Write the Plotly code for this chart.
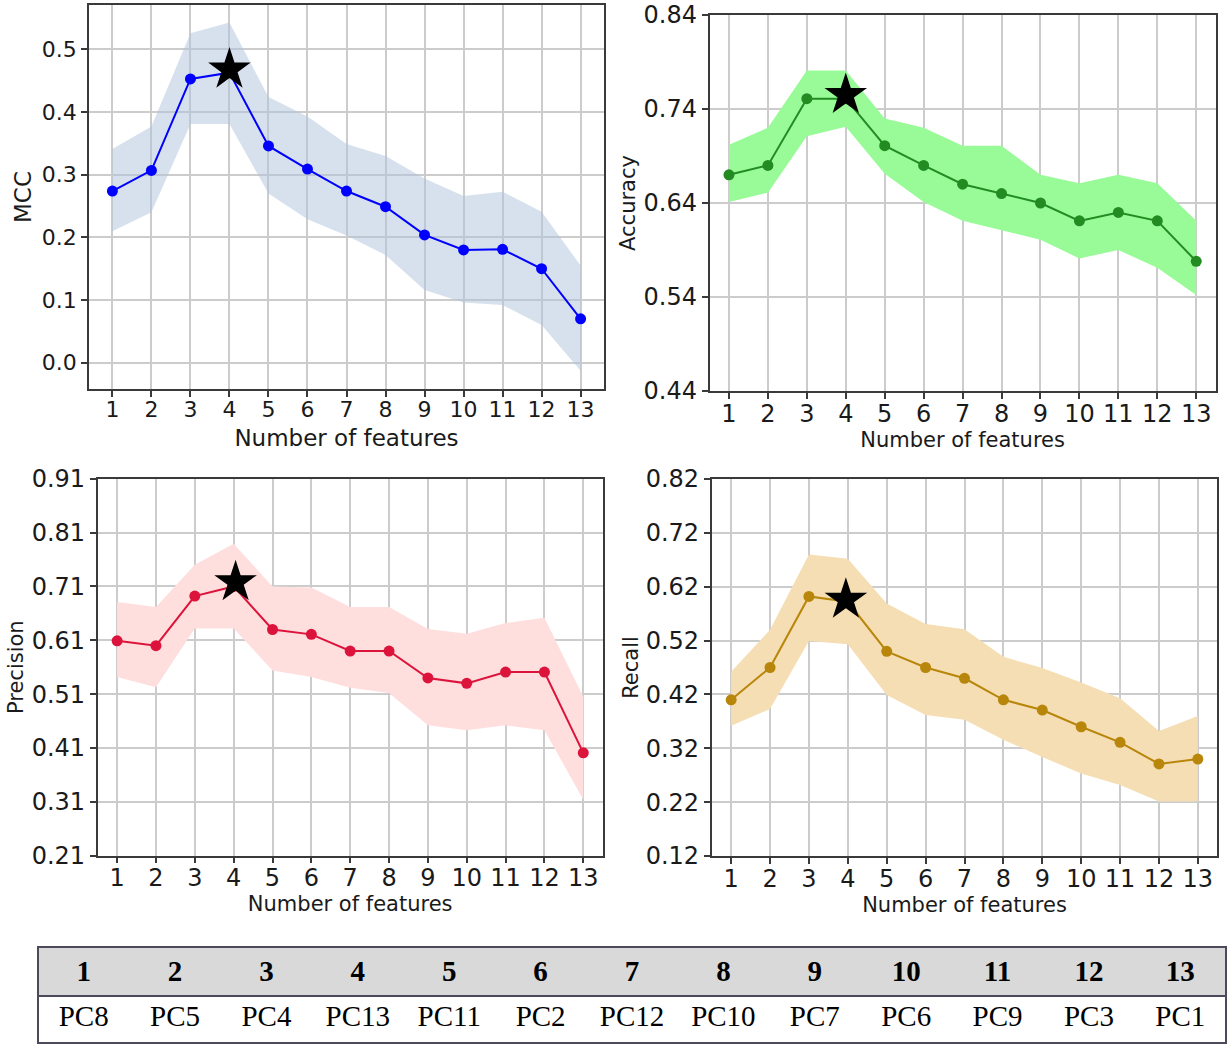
import plotly.graph_objects as go

features = list(range(1, 14))

mcc_mean = [0.274, 0.307, 0.453, 0.463, 0.346, 0.309, 0.274, 0.249, 0.204, 0.180, 0.181, 0.150, 0.070]
mcc_high = [0.341, 0.377, 0.526, 0.543, 0.424, 0.393, 0.349, 0.330, 0.294, 0.266, 0.273, 0.241, 0.155]
mcc_low = [0.210, 0.240, 0.381, 0.381, 0.270, 0.229, 0.203, 0.172, 0.116, 0.096, 0.092, 0.060, -0.013]

acc_mean = [0.670, 0.680, 0.751, 0.751, 0.701, 0.680, 0.660, 0.650, 0.640, 0.621, 0.630, 0.621, 0.578]
acc_high = [0.702, 0.720, 0.781, 0.781, 0.730, 0.720, 0.701, 0.701, 0.670, 0.661, 0.670, 0.661, 0.621]
acc_low = [0.641, 0.651, 0.711, 0.721, 0.671, 0.641, 0.621, 0.611, 0.601, 0.581, 0.590, 0.571, 0.542]

prec_mean = [0.609, 0.600, 0.692, 0.710, 0.630, 0.621, 0.590, 0.590, 0.540, 0.530, 0.551, 0.551, 0.401]
prec_high = [0.681, 0.672, 0.750, 0.789, 0.710, 0.708, 0.672, 0.672, 0.631, 0.622, 0.642, 0.652, 0.505]
prec_low = [0.542, 0.523, 0.632, 0.632, 0.554, 0.542, 0.522, 0.512, 0.452, 0.443, 0.452, 0.443, 0.314]

rec_mean = [0.410, 0.470, 0.602, 0.592, 0.500, 0.470, 0.450, 0.410, 0.391, 0.360, 0.331, 0.291, 0.300]
rec_high = [0.462, 0.540, 0.680, 0.672, 0.589, 0.551, 0.541, 0.490, 0.469, 0.442, 0.413, 0.352, 0.380]
rec_low = [0.362, 0.393, 0.519, 0.513, 0.419, 0.382, 0.373, 0.336, 0.304, 0.273, 0.252, 0.221, 0.221]

best_x = [4, 4, 4.05, 3.95]
best_y = [0.468, 0.755, 0.718, 0.596]

metric_names = ["MCC", "Accuracy", "Precision", "Recall"]
acc_ticks = [0.44, 0.54, 0.64, 0.74, 0.84]
prec_ticks = [0.21, 0.31, 0.41, 0.51, 0.61, 0.71, 0.81, 0.91]
rec_ticks = [0.12, 0.22, 0.32, 0.42, 0.52, 0.62, 0.72, 0.82]
mcc_ticks = [0.0, 0.1, 0.2, 0.3, 0.4, 0.5]

table_header = [str(i) for i in range(1, 14)]
table_row = ["PC8", "PC5", "PC4", "PC13", "PC11", "PC2", "PC12", "PC10", "PC7", "PC6", "PC9", "PC3", "PC1"]

W, H = 1228, 1044

def px_dom_x(a, b):
    return [a / W, b / W]

def px_dom_y(top, bottom):
    return [1 - bottom / H, 1 - top / H]

panels = [
    dict(mean=mcc_mean, low=mcc_low, high=mcc_high, line="#0000ff", fill="rgba(176,196,222,0.5)",
         dx=px_dom_x(89, 604), dy=px_dom_y(5, 389), xr=[0.4, 13.6], yr=[-0.042, 0.571],
         ticks=mcc_ticks, fmt=".1f", tickfs=22, titlefs=23, ytfs=23, xstand=9, ystand=4),
    dict(mean=acc_mean, low=acc_low, high=acc_high, line="#228b22", fill="#98fb98",
         dx=px_dom_x(709.5, 1215.7), dy=px_dom_y(15, 391), xr=[0.5, 13.5], yr=[0.44, 0.84],
         ticks=acc_ticks, fmt=".2f", tickfs=24, titlefs=21, ytfs=21, xstand=4, ystand=2),
    dict(mean=prec_mean, low=prec_low, high=prec_high, line="#dc143c", fill="#ffdede",
         dx=px_dom_x(97.7, 602.7), dy=px_dom_y(478.7, 855.7), xr=[0.5, 13.5], yr=[0.21, 0.91],
         ticks=prec_ticks, fmt=".2f", tickfs=24, titlefs=21, ytfs=21, xstand=5, ystand=2),
    dict(mean=rec_mean, low=rec_low, high=rec_high, line="#b8860b", fill="#f5deb3",
         dx=px_dom_x(711.7, 1217.3), dy=px_dom_y(479, 856), xr=[0.5, 13.5], yr=[0.12, 0.82],
         ticks=rec_ticks, fmt=".2f", tickfs=24, titlefs=21, ytfs=21, xstand=4, ystand=1),
]

fig = go.Figure()
layout = dict(width=W, height=H, margin=dict(l=0, r=0, t=0, b=0, autoexpand=False),
              paper_bgcolor="white", plot_bgcolor="white", showlegend=False,
              font=dict(family="DejaVu Sans", color="#1a1a1a"))

for i, p in enumerate(panels):
    n = "" if i == 0 else str(i + 1)
    xa, ya = "x" + n, "y" + n
    fig.add_trace(go.Scatter(x=features, y=p["low"], xaxis=xa, yaxis=ya, mode="lines",
                             line=dict(width=0, color=p["fill"]), hoverinfo="skip"))
    fig.add_trace(go.Scatter(x=features, y=p["high"], xaxis=xa, yaxis=ya, mode="lines",
                             line=dict(width=0, color=p["fill"]), fill="tonexty",
                             fillcolor=p["fill"], hoverinfo="skip"))
    fig.add_trace(go.Scatter(x=features, y=p["mean"], xaxis=xa, yaxis=ya, mode="lines+markers",
                             line=dict(width=2, color=p["line"]),
                             marker=dict(size=11, color=p["line"])))
    fig.add_trace(go.Scatter(x=[best_x[i]], y=[best_y[i]], xaxis=xa, yaxis=ya, mode="markers",
                             marker=dict(symbol="star", size=32, color="black",
                                         line=dict(width=0))))
    axcommon = dict(showline=True, linecolor="#3a3a3a", linewidth=1.5, mirror=True,
                    ticks="outside", ticklen=6, tickwidth=1.5, tickcolor="#3a3a3a",
                    showgrid=True, gridcolor="#cccccc", gridwidth=1.5, zeroline=False,
                    automargin=False,
                    tickfont=dict(size=p["tickfs"], family="DejaVu Sans", color="#1a1a1a"))
    layout["xaxis" + n] = dict(domain=p["dx"], anchor=ya, range=p["xr"],
                               tickvals=features, ticktext=[str(f) for f in features],
                               ticklabelstandoff=-6,
                               title=dict(text="Number of features", standoff=p["xstand"],
                                          font=dict(size=p["titlefs"], family="DejaVu Sans")),
                               **axcommon)
    layout["yaxis" + n] = dict(domain=p["dy"], anchor=xa, range=p["yr"],
                               tickvals=p["ticks"], tickformat=p["fmt"],
                               title=dict(text=metric_names[i], standoff=p["ystand"],
                                          font=dict(size=p["ytfs"], family="DejaVu Sans")),
                               **axcommon)

tx0, tx1, ty0, ty1 = 38, 1226, 947, 1043
fig.add_trace(go.Table(
    domain=dict(x=[tx0 / W, tx1 / W], y=[0, 1 - ty0 / H]),
    columnwidth=[1] * 13,
    header=dict(values=["<b>" + h + "</b>" for h in table_header], fill_color="#d9d9d9",
                line=dict(color="#d9d9d9", width=1), align="center", height=49,
                font=dict(family="Liberation Serif", size=29, color="black")),
    cells=dict(values=[[v] for v in table_row], fill_color="white",
               line=dict(color="white", width=1), align="center", height=48,
               font=dict(family="Liberation Serif", size=29, color="black")),
))

layout["shapes"] = [
    dict(type="rect", xref="paper", yref="paper", x0=tx0 / W, x1=tx1 / W,
         y0=1 - ty1 / H, y1=1 - ty0 / H, line=dict(color="#4a4a5a", width=2)),
    dict(type="line", xref="paper", yref="paper", x0=tx0 / W, x1=tx1 / W,
         y0=1 - 996 / H, y1=1 - 996 / H, line=dict(color="#4a4a5a", width=2)),
]

fig.update_layout(**layout)
fig.write_html("out.html")
